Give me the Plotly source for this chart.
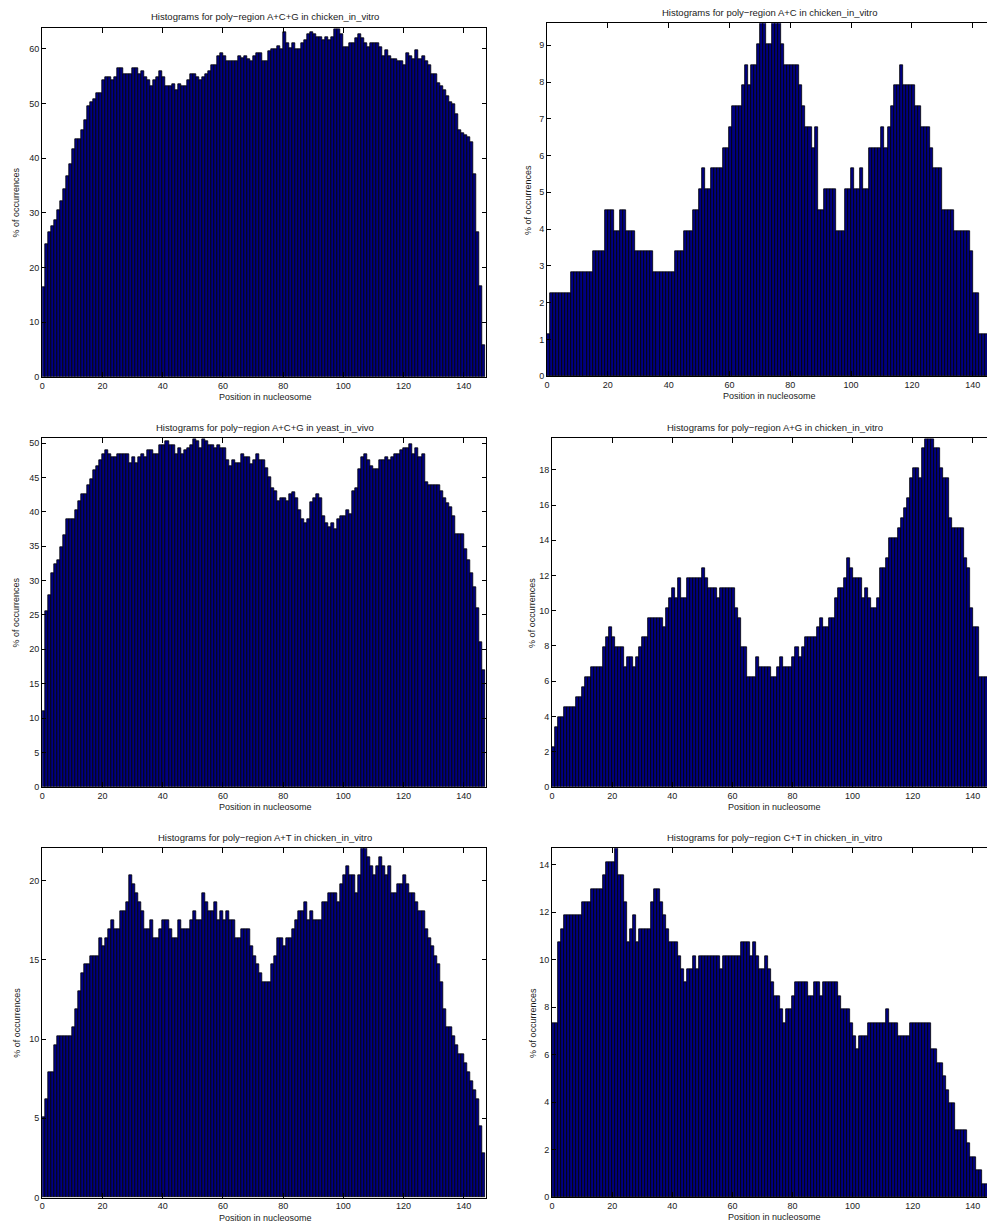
import plotly.graph_objects as go

positions = list(range(1, 148))
x_ticks = [0, 20, 40, 60, 80, 100, 120, 140]

titles = [
    "Histograms for poly\u2212region A+C+G in chicken_in_vitro",
    "Histograms for poly\u2212region A+C in chicken_in_vitro",
    "Histograms for poly\u2212region A+C+G in yeast_in_vivo",
    "Histograms for poly\u2212region A+G in chicken_in_vitro",
    "Histograms for poly\u2212region A+T in chicken_in_vitro",
    "Histograms for poly\u2212region C+T in chicken_in_vitro",
]
x_label = "Position in nucleosome"
y_label = "% of occurrences"

acg_chicken = [
    16.4, 24.3, 26.5, 27.6, 28.7, 30.5, 32.2, 34.4, 36.7, 39.0,
    41.7, 43.4, 43.4, 45.2, 46.9, 49.6, 50.2, 50.8, 51.9, 51.9,
    54.2, 54.8, 54.8, 54.2, 54.8, 56.5, 56.5, 55.3, 55.3, 55.3,
    56.5, 56.5, 55.3, 55.9, 54.8, 54.2, 53.1, 54.2, 54.8, 55.9,
    54.8, 53.1, 53.1, 53.6, 52.5, 53.6, 53.1, 53.1, 54.2, 55.3,
    55.3, 54.8, 54.2, 54.8, 55.3, 55.9, 57.1, 57.1, 58.7, 59.3,
    58.7, 57.7, 57.7, 57.7, 57.7, 58.7, 58.3,
    58.7, 58.1, 57.7, 58.7, 59.3, 59.3, 57.7, 57.7, 59.5, 59.9,
    59.9, 60.5, 59.9, 63.1, 61.0, 60.2, 61.0, 59.9, 59.9, 61.0,
    61.6, 62.7, 63.1, 62.7, 62.2, 62.2, 61.6, 62.2, 61.6, 62.2,
    63.6, 63.6, 62.7, 60.4, 60.4, 61.0, 61.0, 61.9, 62.7, 61.9,
    61.0, 60.4, 61.0, 61.0, 61.0, 60.4, 58.7, 59.8, 58.7, 58.1,
    58.1, 57.7, 57.7, 57.1, 59.3, 58.7, 58.1, 59.8, 58.1, 58.7,
    57.7, 57.1, 55.4, 55.4, 53.7, 53.1, 52.5, 51.4, 50.2, 49.9,
    48.0, 45.2, 44.6,
    44.3, 43.8, 43.0, 37.0, 26.5, 16.5, 5.7,
]

ac_chicken = [
    1.13, 2.26, 2.26, 2.26, 2.26, 2.26, 2.26, 2.26, 2.82, 2.82,
    2.82, 2.82, 2.82, 2.82, 2.82, 3.39, 3.39, 3.39, 3.39, 4.52,
    4.52, 4.52, 3.95, 3.95, 4.52, 4.52, 3.95, 3.95, 3.95, 3.39,
    3.39, 3.39, 3.39, 3.39, 3.39, 2.82, 2.82, 2.82, 2.82, 2.82,
    2.82, 2.82, 3.39, 3.39, 3.39, 3.95, 3.95, 3.95, 4.52, 4.52,
    5.08, 5.65, 5.08, 5.08, 5.65, 5.65, 5.65, 5.65, 6.21, 6.21,
    6.78, 7.34, 7.34, 7.34, 7.91, 8.47, 7.91, 8.47, 8.47, 9.04,
    9.6, 9.6, 9.04, 9.04, 9.6, 9.6, 9.6, 9.04, 8.47, 8.47,
    8.47, 8.47, 8.47, 7.91, 7.34, 6.78, 6.78, 6.21, 6.78, 4.52,
    4.52, 5.08, 5.08, 5.08, 5.08, 3.95, 3.95, 3.95, 5.08, 5.08,
    5.65, 5.08, 5.08, 5.65, 5.08, 5.08, 6.21, 6.21, 6.21, 6.21,
    6.78, 6.21, 6.78, 7.34, 7.91, 7.91, 8.47, 7.91, 7.91, 7.91,
    7.91, 7.34, 7.34, 6.78, 6.78, 6.78, 6.21, 5.65, 5.65, 5.65,
    4.52, 4.52, 4.52, 4.52, 3.95, 3.95, 3.95, 3.95, 3.95, 3.39,
    2.26, 2.26, 1.13, 1.13, 1.13, 1.13, 0.56,
]

acg_yeast = [
    10.96, 25.6, 27.9, 31.0, 32.4, 32.9, 34.8, 36.6, 38.9, 38.9,
    38.9, 40.2, 41.5, 42.5, 42.5, 43.9, 44.8, 46.1, 46.6, 47.5,
    48.4, 48.9, 48.4, 47.9, 47.9, 48.4, 48.4, 48.4, 48.4, 47.1,
    47.9, 47.1, 47.9, 48.4, 47.9, 48.9, 48.9, 48.4, 48.4, 49.7,
    49.7, 50.2, 49.7, 49.7, 48.4, 49.3, 48.4, 48.9, 49.3, 49.7,
    50.6, 50.2, 49.3, 50.6, 50.2, 49.7, 49.7, 49.3, 49.7, 49.3,
    49.3, 47.5, 46.6, 47.5, 47.1, 47.1,
    48.4, 47.9, 47.9, 46.9, 47.5, 48.4, 47.5, 47.5, 46.4,
    45.0, 43.5, 43.0, 41.5, 42.0, 42.0, 41.5, 42.5, 42.8, 42.0,
    40.2, 38.9, 38.4, 38.9, 41.4, 42.0, 42.5, 42.0, 39.4, 38.4,
    37.8, 38.4, 37.5, 38.9, 39.4, 39.4, 40.2, 39.7, 43.0, 43.5,
    46.2, 47.9, 48.4, 47.5, 46.6, 46.2, 46.2, 47.5, 47.5, 47.9,
    47.5, 47.9, 48.4, 48.4, 48.9, 49.3, 49.3, 49.8, 48.4, 49.3,
    47.9, 48.4, 44.3, 43.9, 43.9, 43.9, 43.9, 43.0, 42.0, 41.3,
    40.6, 39.4, 36.7, 36.7, 36.7,
    34.5, 33.0, 31.0, 29.0, 26.0, 21.0, 17.0,
]

ag_chicken = [
    2.26, 3.39, 3.95, 3.95, 4.52, 4.52, 4.52, 4.52, 5.08, 5.08,
    5.65, 6.21, 6.21, 6.78, 6.78, 6.78, 6.78, 7.91, 8.47, 9.04,
    8.47, 7.91, 7.91, 7.91, 6.78, 7.34, 7.34, 6.78, 7.34, 7.91,
    8.47, 8.47, 9.6, 9.6, 9.6, 9.6, 9.6, 9.04, 10.17, 10.73,
    11.3, 10.73, 11.86, 10.73, 10.73, 11.86, 11.86, 11.86, 11.86, 11.86,
    12.43, 11.86, 11.3, 11.3, 11.3, 10.73, 11.3, 11.3, 11.3, 11.3,
    11.3, 10.17, 9.6, 7.91, 7.91, 6.21, 6.21, 6.21, 7.34, 6.78,
    6.78, 6.78, 6.78, 6.21, 6.21, 6.78, 7.34, 6.78, 6.78, 6.78,
    7.34, 7.91, 7.34, 7.91, 8.47, 8.47, 8.47, 8.47, 9.04, 9.6,
    9.04, 9.04, 9.6, 9.6, 10.73, 11.3, 11.3, 11.86, 13.0, 12.43,
    11.86, 11.86, 11.86, 10.73, 11.3, 10.73, 10.17, 10.17, 10.73, 12.43,
    12.43, 13.0, 14.12, 14.12, 14.12, 14.69, 15.25, 15.82, 16.38, 17.51,
    18.08, 18.08, 17.51, 19.21, 19.77, 19.77, 19.77, 19.21, 19.21, 18.08,
    17.51, 17.51, 15.25, 14.69, 14.69, 14.69, 14.69, 13.0, 12.43, 10.17,
    9.04, 9.04, 6.21, 6.21, 6.21, 4.52, 2.26,
]

at_chicken = [
    5.08, 6.21, 7.91, 7.91, 9.6, 10.17, 10.17, 10.17, 10.17, 10.17,
    10.73, 11.86, 12.99, 14.12, 14.69, 14.69, 15.25, 15.25, 15.25, 16.38,
    15.82, 16.38, 16.95, 17.51, 16.95, 16.95, 18.08, 18.08, 18.64, 20.34,
    19.77, 19.21, 18.64, 18.08, 16.95, 16.95, 17.51, 16.38, 16.38, 16.95,
    17.51, 17.51, 16.95, 16.38, 16.38, 17.51, 16.95, 16.95, 16.95, 17.51,
    18.08, 17.51, 17.51, 19.21, 18.64, 18.08, 18.08, 18.64, 17.51, 18.08,
    17.51, 18.08, 17.51, 17.51, 16.38, 16.38, 16.95, 16.95, 16.95, 15.82,
    15.25, 14.69, 14.12, 13.56, 13.56, 13.56, 14.69, 15.25, 16.38, 16.38,
    15.82, 16.38, 16.38, 16.95, 17.51, 18.08, 18.08, 18.64, 17.51, 18.08,
    17.51, 17.51, 17.51, 18.64, 18.64, 19.21, 19.21, 19.21, 18.64, 19.77,
    20.34, 20.9, 20.34, 20.34, 19.21, 20.34, 22.03, 22.03, 21.47, 20.9,
    20.34, 20.9, 21.47, 20.9, 20.34, 20.9, 19.21, 19.21, 19.77, 19.77,
    20.34, 19.77, 19.21, 19.21, 18.64, 18.08, 18.08, 16.95, 16.38, 15.82,
    15.25, 14.69, 13.56, 11.86, 10.73, 10.73, 10.17, 9.6, 9.04, 9.04,
    8.47, 7.91, 7.34, 6.78, 6.21, 4.52, 2.82,
]

ct_chicken = [
    7.34, 7.34, 10.73, 11.3, 11.86, 11.86, 11.86, 11.86, 11.86, 11.86,
    12.43, 12.43, 12.43, 12.99, 12.99, 12.99, 12.99, 13.56, 14.12, 14.12,
    14.12, 14.69, 13.56, 13.56, 12.43, 10.73, 11.3, 11.86, 10.73, 11.3,
    11.3, 11.3, 11.3, 12.43, 12.99, 12.99, 12.43, 11.86, 11.3, 10.73,
    10.73, 10.73, 10.17, 9.6, 9.04, 9.6, 9.6, 10.17, 9.6, 10.17,
    10.17, 10.17, 10.17, 10.17, 10.17, 10.17, 9.6, 10.17, 10.17, 10.17,
    10.17, 10.17, 10.17, 10.73, 10.73, 10.73, 10.17, 10.73, 10.17, 9.6,
    9.6, 10.17, 9.6, 9.04, 8.47, 8.47, 7.91, 7.34, 7.91, 7.91,
    8.47, 9.04, 9.04, 9.04, 9.04, 8.47, 8.47, 9.04, 9.04, 8.47,
    9.04, 9.04, 9.04, 9.04, 9.04, 8.47, 7.91, 7.91, 7.91, 7.34,
    6.78, 6.21, 6.78, 6.78, 6.78, 7.34, 7.34, 7.34, 7.34, 7.34,
    7.34, 7.91, 7.34, 7.34, 7.34, 6.78, 6.78, 6.78, 6.78, 7.34,
    7.34, 7.34, 7.34, 7.34, 7.34, 7.34, 6.21, 6.21, 5.65, 5.65,
    5.08, 4.52, 3.95, 3.95, 2.82, 2.82, 2.82, 2.82, 2.26, 1.69,
    1.69, 1.13, 1.13, 0.56, 0.56, 0.56, 0.0,
]

series = [acg_chicken, ac_chicken, acg_yeast, ag_chicken, at_chicken, ct_chicken]
y_tick_sets = [
    [0, 10, 20, 30, 40, 50, 60],
    [0, 1, 2, 3, 4, 5, 6, 7, 8, 9],
    [0, 5, 10, 15, 20, 25, 30, 35, 40, 45, 50],
    [0, 2, 4, 6, 8, 10, 12, 14, 16, 18],
    [0, 5, 10, 15, 20],
    [0, 2, 4, 6, 8, 10, 12, 14],
]
y_max = [63.8, 9.6, 50.7, 19.8, 22.03, 14.7]

W, H = 987, 1227
# pixel geometry of each axes box: left, right, top, bottom, x-range max
boxes = [
    (39.3, 484.0, 28.3, 378.3, 147.2),
    (545.7, 987.0, 23.3, 377.7, 144.7),
    (39.3, 484.0, 440.0, 790.0, 147.2),
    (550.7, 987.0, 440.0, 790.0, 144.7),
    (39.3, 484.0, 851.7, 1202.5, 147.2),
    (550.7, 987.0, 851.7, 1202.0, 144.7),
]
title_y = [17, 12.7, 429, 429, 841, 841]
ylab_x = [14, 526, 14, 531, 14, 531]

font = "Liberation Sans, Arial, sans-serif"
txt = "#1a1a1a"

fig = go.Figure()
layout = dict(
    width=W, height=H, autosize=False,
    margin=dict(l=0, r=0, t=0, b=0),
    paper_bgcolor="white", plot_bgcolor="white",
    showlegend=False, bargap=0,
    font=dict(family=font, size=9, color=txt),
)
annotations = []
for i, (vals, yt, ym, box) in enumerate(zip(series, y_tick_sets, y_max, boxes)):
    n = i + 1
    xa = "x" if n == 1 else f"x{n}"
    ya = "y" if n == 1 else f"y{n}"
    fig.add_trace(go.Bar(
        x=positions, y=vals, xaxis=xa, yaxis=ya,
        width=1, offset=-1,
        marker=dict(color="#000080", line=dict(color="black", width=0.8)),
        hoverinfo="x+y",
    ))
    l, r, t, b, xr = box
    is_right = (i % 2 == 1)
    layout["xaxis" if n == 1 else f"xaxis{n}"] = dict(
        domain=[l / W, r / W], range=[0, xr], anchor=ya,
        tickvals=x_ticks, ticks="inside", ticklen=5, tickwidth=1, tickcolor="black",
        showline=True, linecolor="black", linewidth=1, mirror="ticks",
        showgrid=False, zeroline=False,
        tickfont=dict(family=font, size=9, color=txt),
    )
    layout["yaxis" if n == 1 else f"yaxis{n}"] = dict(
        domain=[1 - b / H, 1 - t / H], range=[0, ym], anchor=xa,
        tickvals=yt, ticks="inside", ticklen=4, tickwidth=1, tickcolor="black",
        showline=True, linecolor="black", linewidth=1,
        mirror=False if is_right else "ticks",
        showgrid=False, zeroline=False,
        tickfont=dict(family=font, size=9, color=txt),
    )
    xc = (l + (l + 447.0)) / 2
    annotations.append(dict(
        text=titles[i], x=xc / W, y=1 - title_y[i] / H, xref="paper", yref="paper",
        xanchor="center", yanchor="middle", showarrow=False,
        font=dict(family=font, size=9.5, color=txt),
    ))
    annotations.append(dict(
        text=x_label, x=xc / W, y=1 - (b + 20) / H, xref="paper", yref="paper",
        xanchor="center", yanchor="middle", showarrow=False,
        font=dict(family=font, size=9, color=txt),
    ))
    annotations.append(dict(
        text=y_label, x=ylab_x[i] / W, y=1 - ((t + b) / 2) / H, xref="paper", yref="paper",
        xanchor="center", yanchor="middle", showarrow=False, textangle=-90,
        font=dict(family=font, size=9, color=txt),
    ))
layout["annotations"] = annotations
fig.update_layout(**layout)
fig.write_html("out.html")
